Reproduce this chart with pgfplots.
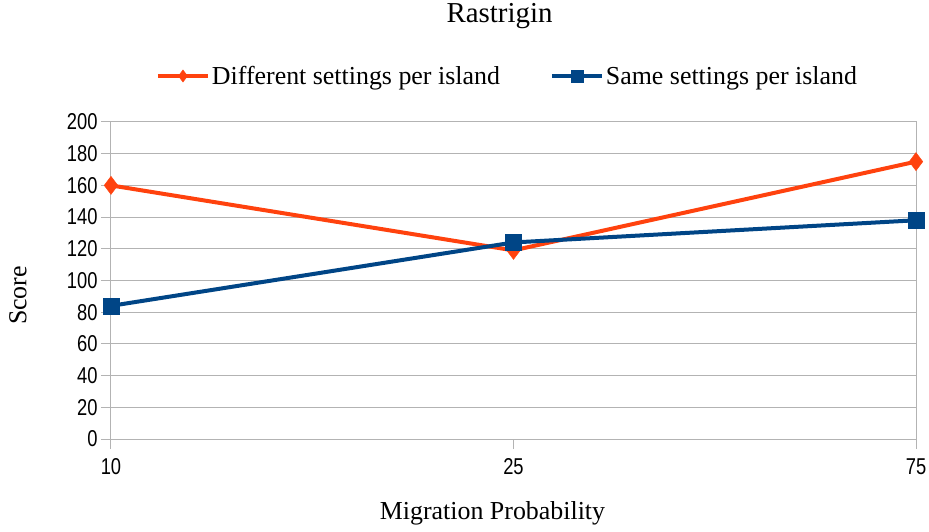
\documentclass[border=0pt]{standalone}
\usepackage{pgfplots}
\pgfplotsset{compat=1.18}
\usepackage{fontspec}
\setmainfont{Liberation Serif}
\newfontfamily\tickfont[FakeStretch=0.8]{Liberation Sans}
\definecolor{lorange}{HTML}{FF420E}
\definecolor{lblue}{HTML}{004586}
\definecolor{lgrid}{HTML}{B3B3B3}
\begin{document}
\begin{tikzpicture}[x=1bp,y=1bp]
\begin{axis}[
  scale only axis,
  width=805bp, height=317bp,
  xmin=0, xmax=2, ymin=0, ymax=200,
  xtick={0,1,2}, xticklabels={10,25,75},
  ytick={0,20,...,200},
  xtick pos=bottom, ytick pos=left,
  ymajorgrids, major grid style={lgrid, line width=1bp},
  axis line style={lgrid, line width=1bp},
  tick style={lgrid, line width=1bp},
  tick align=outside,
  major tick length=10bp,
  ticklabel style={font=\tickfont\fontsize{23}{23}\selectfont, text=black},
  xticklabel style={yshift=-6bp},
  /pgf/number format/assume math mode=true,
  title={Rastrigin},
  title style={font=\fontsize{29}{29}\selectfont, at={(0.5,1)}, anchor=center, xshift=-14bp, yshift=100bp},
  xlabel={Migration Probability},
  ylabel={Score},
  label style={font=\fontsize{26}{26}\selectfont},
  xlabel style={at={(0.5,0)}, anchor=center, xshift=-21bp, yshift=-74bp},
  ylabel style={at={(0,0.5)}, anchor=center, yshift=93bp, xshift=-15bp},
  legend columns=2,
  legend style={at={(0.5,1)}, anchor=center, xshift=-6bp, yshift=46bp, draw=none, fill=none,
    font=\fontsize{26}{26}\selectfont, /tikz/every even column/.append style={column sep=48bp}},
  legend cell align=left,
  legend image code/.code={\draw[#1, mark size=6bp, mark repeat=2, mark phase=2] plot coordinates {(0bp,0bp) (25bp,0bp) (50bp,0bp)};},
]
\coordinate (sw) at (rel axis cs:0,0);
\coordinate (ne) at (rel axis cs:1,1);
\addplot[lorange, line width=4bp, mark=diamond*, mark size=9bp, mark options={solid, line width=0.5bp}]
  coordinates {(0,160) (1,119) (2,175)};
\addlegendentry{Different settings per island}
\addplot[lblue, line width=4bp, mark=square*, mark size=8bp, mark options={solid, line width=0.5bp}]
  coordinates {(0,84) (1,124) (2,138)};
\addlegendentry{Same settings per island}
\end{axis}
\pgfresetboundingbox
\path[use as bounding box] ([xshift=-111bp,yshift=-93bp]sw) rectangle ([xshift=13bp,yshift=122bp]ne);
\end{tikzpicture}
\end{document}
